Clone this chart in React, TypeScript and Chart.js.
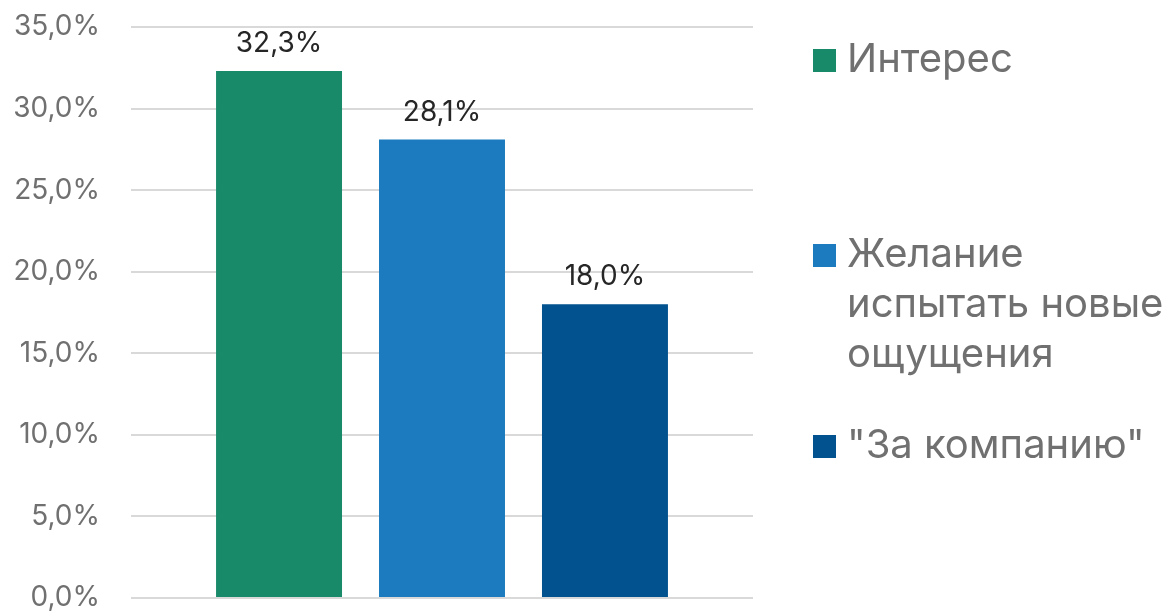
import React, { useEffect, useRef } from "react";
import { Chart, registerables } from "chart.js";

Chart.register(...registerables);

const categories = [""];
const seriesLabels = ["Интерес", "Желание испытать новые ощущения", "\"За компанию\""];
const seriesValues = [32.3, 28.1, 18.0];
const seriesColors = ["#188a69", "#1b7bbe", "#02528f"];
const yTicks = [0, 5, 10, 15, 20, 25, 30, 35];

const FONT = "Inter, 'Noto Sans', sans-serif";
const fmt = (v: number) => v.toFixed(1).replace(".", ",") + "%";

const dataLabelPlugin = {
  id: "dataLabels",
  afterDatasetsDraw(chart: any) {
    const ctx = chart.ctx;
    ctx.save();
    ctx.font = `28px ${FONT}`;
    ctx.fillStyle = "#262626";
    ctx.textAlign = "center";
    ctx.textBaseline = "alphabetic";
    chart.data.datasets.forEach((ds: any, i: number) => {
      const meta = chart.getDatasetMeta(i);
      meta.data.forEach((bar: any, j: number) => {
        ctx.fillText(fmt(ds.data[j]), bar.x, bar.y - 19);
      });
    });
    ctx.restore();
  },
};

const legendPlugin = {
  id: "customLegend",
  afterDraw(chart: any) {
    const ctx = chart.ctx;
    ctx.save();
    ctx.font = `40px ${FONT}`;
    ctx.textBaseline = "alphabetic";
    ctx.textAlign = "left";
    const boxX = 813;
    const textX = 847;
    const maxW = 330;
    const starts = [72, 267, 458];
    chart.data.datasets.forEach((ds: any, i: number) => {
      const words = String(ds.label).split(" ");
      const lines: string[] = [];
      let cur = "";
      words.forEach((w) => {
        const t = cur ? cur + " " + w : w;
        if (ctx.measureText(t).width > maxW && cur) {
          lines.push(cur);
          cur = w;
        } else cur = t;
      });
      if (cur) lines.push(cur);
      const base = starts[i];
      ctx.fillStyle = ds.backgroundColor;
      ctx.fillRect(boxX, base - 23, 23, 23);
      ctx.fillStyle = "#707070";
      lines.forEach((ln, k) => ctx.fillText(ln, textX, base + k * 50));
    });
    ctx.restore();
  },
};

export default function App() {
  const ref = useRef<HTMLCanvasElement>(null);
  useEffect(() => {
    if (!ref.current) return;
    const chart = new Chart(ref.current, {
      type: "bar",
      data: {
        labels: categories,
        datasets: seriesLabels.map((label, i) => ({
          label,
          data: [seriesValues[i]],
          backgroundColor: seriesColors[i],
          categoryPercentage: 0.786,
          barPercentage: 0.773,
        })),
      },
      options: {
        animation: false,
        responsive: false,
        maintainAspectRatio: false,
        layout: { padding: { top: 27, bottom: 15, left: 0, right: 417 } },
        plugins: {
          legend: { display: false },
          tooltip: { enabled: false },
        },
        scales: {
          x: { display: false },
          y: {
            min: 0,
            max: 35,
            afterBuildTicks: (s: any) => {
              s.ticks = yTicks.map((v) => ({ value: v }));
            },
            afterFit: (s: any) => {
              s.width = 131;
              s.paddingTop = 10;
              s.paddingBottom = 10;
            },
            border: { display: false },
            grid: { color: "#d9d9d9", lineWidth: 2, drawTicks: false },
            ticks: {
              padding: 31,
              color: "#707070",
              font: { family: FONT, size: 28 },
              callback: (v: any) => fmt(Number(v)),
            },
          },
        },
      },
      plugins: [dataLabelPlugin, legendPlugin],
    });
    return () => chart.destroy();
  }, []);
  return (
    <div style={{ position: "fixed", left: 0, top: 0, width: 1170, height: 613, background: "#fff" }}>
      <canvas ref={ref} width={1170} height={613} />
    </div>
  );
}
